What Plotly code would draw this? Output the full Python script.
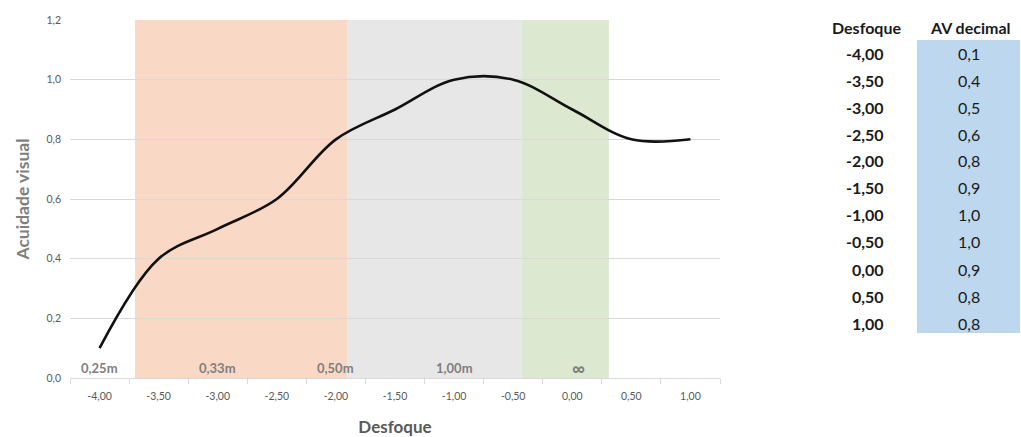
import plotly.graph_objects as go

# Defocus curve data
desfoque = [-4.0, -3.5, -3.0, -2.5, -2.0, -1.5, -1.0, -0.5, 0.0, 0.5, 1.0]
av_decimal = [0.1, 0.4, 0.5, 0.6, 0.8, 0.9, 1.0, 1.0, 0.9, 0.8, 0.8]

# Viewing-distance zones (in dioptres) and their fills
zone_edges = [-3.70, -1.90, -0.43, 0.31]
zone_colors = ["#F9D9C6", "#E7E7E7", "#DCE9D0"]

# Distance labels along the bottom of the plot
dist_labels = ["0,25m", "0,33m", "0,50m", "1,00m", "∞"]
dist_pos = [-4.0, -3.0, -2.0, -1.0, 0.05]

y_ticks = [0.0, 0.2, 0.4, 0.6, 0.8, 1.0, 1.2]


def fmt(v, nd):
    return f"{v:.{nd}f}".replace(".", ",")


W, H = 1021, 437
L, R, T, B = 70, 301, 20, 59
PW, PH = W - L - R, H - T - B

def px(x):
    return (x - L) / PW

def py(y):
    return (H - B - y) / PH

fig = go.Figure()

fig.add_trace(go.Scatter(
    x=desfoque, y=av_decimal, mode="lines",
    line=dict(color="#111111", width=2.6, shape="spline", smoothing=1.0),
    hoverinfo="skip", showlegend=False,
))

shapes = []
for i, c in enumerate(zone_colors):
    shapes.append(dict(type="rect", xref="x", yref="y", layer="below",
                       x0=zone_edges[i], x1=zone_edges[i + 1], y0=0, y1=1.2,
                       fillcolor=c, line=dict(width=0)))

annotations = []
for lab, xp in zip(dist_labels, dist_pos):
    big = lab == "∞"
    annotations.append(dict(x=xp, y=0.035, xref="x", yref="y", text=f"<b>{lab}</b>",
                            showarrow=False, xanchor="center", yanchor="middle",
                            font=dict(family="Lato", size=18 if big else 13,
                                      color="#7F7F7F")))

# Data table to the right of the chart
col1_right = 886
col2_center = 969
header_y = 28
row0_y = 53
row_h = 27
tfont = dict(family="Lato", size=16, color="#1A1A1A")
shapes.append(dict(type="rect", xref="paper", yref="paper",
                   x0=px(917), x1=px(1020), y0=py(333), y1=py(40),
                   fillcolor="#BDD7EE", line=dict(width=0), layer="below"))
annotations.append(dict(x=px(col1_right + 17), y=py(header_y), xref="paper", yref="paper",
                        text="<b>Desfoque</b>", showarrow=False, xanchor="right",
                        yanchor="middle", font=tfont))
annotations.append(dict(x=px(928), y=py(header_y), xref="paper", yref="paper",
                        text="<b>AV decimal</b>", showarrow=False, xanchor="left",
                        yanchor="middle", font=tfont))
for i, (d, a) in enumerate(zip(desfoque, av_decimal)):
    yy = py(row0_y + i * row_h)
    annotations.append(dict(x=px(col1_right), y=yy, xref="paper", yref="paper",
                            text=f"<b>{fmt(d, 2)}</b>", showarrow=False, xanchor="right",
                            yanchor="middle", font=tfont))
    annotations.append(dict(x=px(col2_center), y=yy, xref="paper", yref="paper",
                            text=fmt(a, 1), showarrow=False, xanchor="center",
                            yanchor="middle", font=tfont))

fig.update_layout(
    width=W, height=H,
    margin=dict(l=L, r=R, t=T, b=B),
    paper_bgcolor="white", plot_bgcolor="white",
    shapes=shapes, annotations=annotations,
    font=dict(family="Lato", color="#595959"),
    xaxis=dict(
        range=[-4.25, 1.25], fixedrange=True, automargin=False,
        tickvals=desfoque, ticktext=[fmt(v, 2) for v in desfoque],
        ticks="", showgrid=False, zeroline=False,
        showline=True, linecolor="#D9D9D9", linewidth=1,
        tickfont=dict(size=10.5, color="#595959"), ticklabelstandoff=8,
        minor=dict(tickvals=[v + 0.25 for v in [-4.5] + desfoque],
                   ticks="outside", ticklen=5, tickcolor="#D9D9D9", showgrid=False),
        title=dict(text="<b>Desfoque</b>", font=dict(size=17, color="#595959"), standoff=22),
    ),
    yaxis=dict(
        range=[0, 1.2], fixedrange=True, automargin=False,
        tickvals=y_ticks, ticktext=[fmt(v, 1) for v in y_ticks],
        showgrid=True, gridcolor="#D9D9D9", gridwidth=1,
        zeroline=False, showline=False, ticks="",
        tickfont=dict(size=10.5, color="#595959"), ticklabelstandoff=8,
        title=dict(text="<b>Acuidade visual</b>", font=dict(size=17.5, color="#7F7F7F"),
                   standoff=12),
    ),
)

fig.write_html("out.html")
